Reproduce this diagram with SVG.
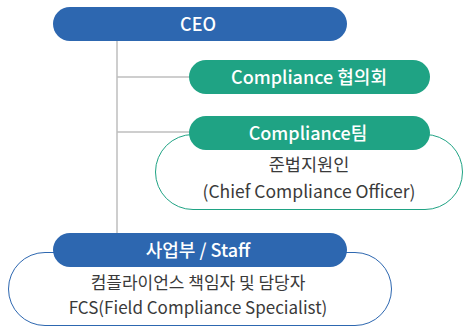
<svg xmlns="http://www.w3.org/2000/svg" width="463" height="327" viewBox="0 0 463 327">
<style>
.pill-b{fill:#2d67b0}
.pill-g{fill:#1fa384}
.out-g{fill:#fff;stroke:#1fa384;stroke-width:1}
.out-b{fill:#fff;stroke:#2d67b0;stroke-width:1}
.lbl{font-family:"Noto Sans CJK KR","Noto Sans",sans-serif;font-size:18px;font-weight:500;fill:#fff;text-anchor:middle}
.body{font-family:"Noto Sans CJK KR","Noto Sans",sans-serif;font-size:17.5px;font-weight:400;fill:#3a3a3a;text-anchor:middle}
.sm{font-size:17px}
.conn{stroke:#bfbfbf;stroke-width:1.5;fill:none}
</style>
<rect width="463" height="327" fill="#fff"/>
<g id="connectors">
<path class="conn" d="M117 41V234M117 77H190M117 132H190"/>
</g>
<g id="ceo">
<rect class="pill-b" x="53" y="7" width="294" height="34" rx="17"/>
<text class="lbl" x="198" y="30.5">CEO</text>
</g>
<g id="council">
<rect class="pill-g" x="189" y="60" width="241" height="34" rx="17"/>
<text class="lbl" x="309" y="83.5">Compliance 협의회</text>
</g>
<g id="team">
<rect class="out-g" x="155.5" y="134.5" width="307" height="75" rx="37.5"/>
<rect class="pill-g" x="189" y="116" width="241" height="34" rx="17"/>
<text class="lbl" x="308" y="139.5">Compliance팀</text>
<text class="body" x="309" y="171">준법지원인</text>
<text class="body" x="309" y="198">(Chief Compliance Officer)</text>
</g>
<g id="staff">
<rect class="out-b" x="8.5" y="252.5" width="383" height="73" rx="36.5"/>
<rect class="pill-b" x="53" y="233" width="294" height="34" rx="17"/>
<text class="lbl" x="198" y="256.5">사업부 / Staff</text>
<text class="body sm" x="198" y="289">컴플라이언스 책임자 및 담당자</text>
<text class="body sm" x="198" y="314">FCS(Field Compliance Specialist)</text>
</g>
</svg>
